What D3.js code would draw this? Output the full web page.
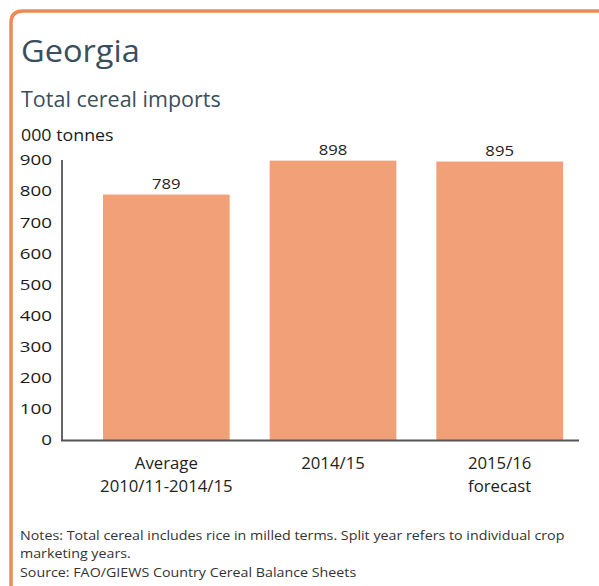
<!DOCTYPE html>
<html>
<head>
<meta charset="utf-8">
<script src="https://cdn.jsdelivr.net/npm/d3@7"></script>
<style>
  html, body { margin: 0; padding: 0; background: #fff; }
  svg { display: block; }
  text { font-family: "Open Sans", "Noto Sans", sans-serif; }
</style>
</head>
<body>
<svg id="chart" width="599" height="586"></svg>
<script>
// Total cereal imports, Georgia (000 tonnes)
const categories = ["avg", "2014/15", "2015/16"];
const categoryLabels = [["Average", "2010/11-2014/15"], ["2014/15"], ["2015/16", "forecast"]];
const values = [789, 898, 895];
const yTicks = [0, 100, 200, 300, 400, 500, 600, 700, 800, 900];

const svg = d3.select("#chart");

// Widen text horizontally around its own x position
function widen(sel, k) {
  sel.each(function() {
    const t = d3.select(this);
    const ax = +t.attr("x") || 0;
    t.attr("transform", `translate(${ax},0) scale(${k},1) translate(${-ax},0)`);
  });
}

// Frame: orange rule along top and left with a rounded corner
const frame = d3.path();
frame.moveTo(599, 11);
frame.lineTo(23, 11);
frame.quadraticCurveTo(11, 11, 11, 23);
frame.lineTo(11, 586);
svg.append("path").attr("d", frame.toString())
  .attr("fill", "none").attr("stroke", "#ef8a52").attr("stroke-width", 3.5);

// Titles
widen(svg.append("text").attr("x", 21).attr("y", 62)
  .attr("font-size", 31).attr("fill", "#3a4e5e").text("Georgia"), 1.05);
svg.append("text").attr("x", 21).attr("y", 107)
  .attr("font-size", 21.5).attr("fill", "#3a4e5e").text("Total cereal imports");
widen(svg.append("text").attr("x", 21).attr("y", 141)
  .attr("font-size", 15.5).attr("fill", "#1a1a1a").text("000 tonnes"), 1.15);

const x = d3.scaleBand().domain(categories).range([83, 583]).paddingInner(0.24).paddingOuter(0.12);
const y = d3.scaleLinear().domain([0, 900]).range([440, 160]);

// Bars
svg.append("g").selectAll("rect").data(values).join("rect")
  .attr("x", (d, i) => x(categories[i]))
  .attr("y", d => y(d))
  .attr("width", x.bandwidth())
  .attr("height", d => y(0) - y(d))
  .attr("fill", "#f2a077");

// Value labels
widen(svg.append("g").selectAll("text").data(values).join("text")
  .attr("x", (d, i) => x(categories[i]) + x.bandwidth() / 2)
  .attr("y", d => y(d) - 6)
  .attr("text-anchor", "middle").attr("font-size", 14.5).attr("fill", "#222")
  .text(d => d), 1.15);

// Y axis: labels only plus a vertical rule
const yAxis = d3.axisLeft(y).tickValues(yTicks).tickSize(0).tickPadding(10);
const ya = svg.append("g").attr("transform", "translate(62,0)").call(yAxis);
ya.select(".domain").remove();
ya.selectAll("text").attr("font-size", 15).attr("fill", "#1a1a1a")
  .attr("font-family", "\"Open Sans\", sans-serif");
ya.selectAll("text").each(function() {
  d3.select(this).attr("transform", "translate(-10,0) scale(1.25,1) translate(10,0)");
});
svg.append("line").attr("x1", 62).attr("x2", 62).attr("y1", 160).attr("y2", 441)
  .attr("stroke", "#333").attr("stroke-width", 1.5);
svg.append("line").attr("x1", 61).attr("x2", 579).attr("y1", 440.5).attr("y2", 440.5)
  .attr("stroke", "#555").attr("stroke-width", 2);

// Category labels
const cl = svg.append("g").selectAll("text").data(categories).join("text")
  .attr("x", c => x(c) + x.bandwidth() / 2)
  .attr("text-anchor", "middle").attr("font-size", 15.5).attr("fill", "#222");
cl.each(function(c, i) {
  const t = d3.select(this);
  categoryLabels[i].forEach((line, j) => {
    t.append("tspan").attr("x", x(c) + x.bandwidth() / 2).attr("y", 469 + j * 23).text(line);
  });
});
widen(cl, 1.08);

// Notes and source
const notes = [
  "Notes: Total cereal includes rice in milled terms. Split year refers to individual crop",
  "marketing years.",
  "Source: FAO/GIEWS Country Cereal Balance Sheets"
];
widen(svg.append("g").selectAll("text").data(notes).join("text")
  .attr("x", 20).attr("y", (d, i) => 540 + i * 18.5)
  .attr("font-size", 12.3).attr("fill", "#333")
  .text(d => d), 1.16);
</script>
</body>
</html>
